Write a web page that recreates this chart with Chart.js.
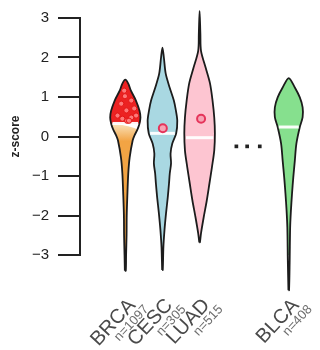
<!DOCTYPE html>
<html>
<head>
<meta charset="utf-8">
<script src="https://cdn.jsdelivr.net/npm/chart.js@4.4.1/dist/chart.umd.min.js"></script>
<style>
  html, body { margin: 0; padding: 0; background: #fff; }
  #wrap { width: 320px; height: 350px; }
</style>
</head>
<body>
<div id="wrap"><canvas id="chart"></canvas></div>
<script>
// ─── DATA ────────────────────────────────────────────────────────────────────
const categories  = ['BRCA', 'CESC', 'LUAD', 'BLCA'];
const sampleSizes = [1097, 305, 515, 408];
const positions   = [1, 2, 3, 5.4];          // x slot of each violin
const medians     = [0.33, 0.08, -0.03, 0.24];

// density profiles: z-score level -> relative half width
const brcaLevels  = [-3.4, -3.0, -2.5, -2.0, -1.5, -0.93, -0.53, -0.1, 0.03, 0.18, 0.33, 0.48, 0.65, 0.91, 1.16, 1.34, 1.44];
const brcaDensity = [0.03, 0.05, 0.08, 0.09, 0.13, 0.19, 0.28, 0.47, 0.59, 0.78, 0.91, 0.97, 0.91, 0.68, 0.36, 0.19, 0];

const cescLevels  = [-3.38, -2.8, -2.37, -1.94, -1.54, -1.19, -0.93, -0.68, -0.43, -0.18, 0.08, 0.40, 0.66, 0.91, 1.24, 1.59, 2.0, 2.25];
const cescDensity = [0.02, 0.06, 0.13, 0.23, 0.34, 0.42, 0.47, 0.55, 0.52, 0.63, 0.88, 0.95, 0.86, 0.73, 0.46, 0.21, 0.09, 0];

const luadLevels  = [-2.68, -2.45, -2.05, -1.62, -1.19, -0.78, -0.35, 0.08, 0.48, 0.91, 1.34, 1.74, 2.17, 2.6, 3.18];
const luadDensity = [0.02, 0.09, 0.26, 0.46, 0.63, 0.79, 0.94, 0.98, 0.94, 0.83, 0.67, 0.39, 0.09, 0.05, 0];

const blcaLevels  = [-3.89, -3.13, -2.3, -1.87, -1.45, -1.04, -0.61, -0.18, 0.24, 0.49, 0.74, 0.99, 1.24, 1.48];
const blcaDensity = [0.02, 0.06, 0.09, 0.14, 0.21, 0.29, 0.39, 0.49, 0.71, 0.89, 0.89, 0.71, 0.39, 0];

// highlighted BRCA samples (red dots in the upper part)
const brcaHitX = [0.97, 1.16, 0.89, 1.03, 1.24, 0.79, 0.92, 1.16, 1.29, 1.05, 0.99, 1.10];
const brcaHitY = [1.16, 0.91, 0.83, 0.66, 0.71, 0.53, 0.45, 0.48, 0.53, 0.40, 1.02, 0.40];

// single marked sample in CESC and LUAD
const markX = [2.01, 3.04];
const markY = [0.21, 0.45];

// "..." between LUAD and BLCA
const gapX = [3.99, 4.28, 4.62];
const gapY = [-0.25, -0.25, -0.25];

const yTicks = [-3, -2, -1, 0, 1, 2, 3];

// ─── HELPERS ─────────────────────────────────────────────────────────────────
const HALF = 0.42;   // x units for density 1
const INK  = '#1c1c1c';
const FONT = '"Liberation Sans", Arial, sans-serif';

function outline(levels, dens, center) {
    const pts = [];
    for (let i = 0; i < levels.length; i++) pts.push({ x: center - dens[i] * HALF, y: levels[i] });
    for (let i = levels.length - 2; i >= 0; i--) pts.push({ x: center + dens[i] * HALF, y: levels[i] });
    pts.push(pts[0]);
    return pts;
}

function densAt(levels, dens, v) {
    for (let i = 1; i < levels.length; i++) {
        if (v <= levels[i]) {
            const t = (v - levels[i - 1]) / (levels[i] - levels[i - 1]);
            return dens[i - 1] + t * (dens[i] - dens[i - 1]);
        }
    }
    return 0;
}

function cut(levels, dens, from, to) {
    const l = [], d = [];
    levels.forEach((v, i) => { if (v >= from && v <= to) { l.push(v); d.push(dens[i]); } });
    return [l, d];
}

function violinSet(levels, dens, center, color) {
    return {
        data: outline(levels, dens, center),
        showLine: true, fill: 'shape',
        backgroundColor: color, borderColor: INK, borderWidth: 1.8,
        pointRadius: 0, tension: 0.3, clip: false, order: 4
    };
}

function fillSet(levels, dens, center, color) {
    return {
        data: outline(levels, dens, center),
        showLine: true, fill: 'shape',
        backgroundColor: color, borderWidth: 0, borderColor: 'rgba(0,0,0,0)',
        pointRadius: 0, tension: 0.3, clip: false, order: 4
    };
}

function medianSet(levels, dens, center, m) {
    const w = densAt(levels, dens, m) * HALF * 0.9;
    return {
        data: [{ x: center - w, y: m }, { x: center + w, y: m }],
        showLine: true, borderColor: 'rgba(255,255,255,0.95)', borderWidth: 3,
        pointRadius: 0, tension: 0, clip: false, order: 2
    };
}

// orange part of BRCA fades to pale just under the median line
function brcaLowerFill(context) {
    const chart = context.chart;
    if (!chart.chartArea) return '#f2a444';
    const y = chart.scales.y;
    const g = chart.ctx.createLinearGradient(0, y.getPixelForValue(medians[0]), 0, y.getPixelForValue(medians[0] - 0.45));
    g.addColorStop(0, '#fae3bd');
    g.addColorStop(1, '#f2a444');
    return g;
}

const [brcaLoL, brcaLoD] = cut(brcaLevels, brcaDensity, -99, medians[0]);
const [brcaHiL, brcaHiD] = cut(brcaLevels, brcaDensity, medians[0], 99);

const datasets = [
    // markers on top
    {
        data: markX.map((x, i) => ({ x, y: markY[i] })),
        pointRadius: 4, pointBorderWidth: 2,
        pointBorderColor: '#e5345a', pointBackgroundColor: '#f6a3b4', order: 0
    },
    {
        data: brcaHitX.map((x, i) => ({ x, y: brcaHitY[i] })),
        pointRadius: 2.6, pointBorderWidth: 1,
        pointBorderColor: '#e41414', pointBackgroundColor: 'rgba(255,130,130,0.9)', order: 1
    },
    {
        data: gapX.map((x, i) => ({ x, y: gapY[i] })),
        pointStyle: 'rect', pointRadius: 2.6, pointBorderWidth: 0,
        pointBackgroundColor: '#222', order: 0
    },
    medianSet(brcaLevels, brcaDensity, positions[0], medians[0]),
    medianSet(cescLevels, cescDensity, positions[1], medians[1]),
    medianSet(luadLevels, luadDensity, positions[2], medians[2]),
    medianSet(blcaLevels, blcaDensity, positions[3], medians[3]),
    // BRCA: outline + two-tone fill
    {
        data: outline(brcaLevels, brcaDensity, positions[0]),
        showLine: true, fill: false, borderColor: INK, borderWidth: 1.8,
        pointRadius: 0, tension: 0.3, clip: false, order: 3
    },
    fillSet(brcaHiL, brcaHiD, positions[0], '#ec2222'),
    fillSet(brcaLoL, brcaLoD, positions[0], brcaLowerFill),
    violinSet(cescLevels, cescDensity, positions[1], '#a9d8e2'),
    violinSet(luadLevels, luadDensity, positions[2], '#fdc5d1'),
    violinSet(blcaLevels, blcaDensity, positions[3], '#86e08e')
];

// ─── X LABELS (rotated, two sizes) ──────────────────────────────────────────
const xLabels = {
    id: 'xLabels',
    afterDraw(chart) {
        const ctx = chart.ctx;
        const x = chart.scales.x;
        const base = chart.chartArea.bottom + 51;
        categories.forEach((name, i) => {
            const px = x.getPixelForValue(positions[i]);
            ctx.save();
            ctx.translate(px + 11, base);
            ctx.rotate(-47 * Math.PI / 180);
            ctx.textAlign = 'right';
            ctx.textBaseline = 'alphabetic';
            ctx.fillStyle = '#4a4a4a';
            ctx.font = '20px ' + FONT;
            ctx.fillText(name, 0, 0);
            ctx.fillStyle = '#6e6e6e';
            ctx.font = '13px ' + FONT;
            ctx.fillText('n=' + sampleSizes[i], 6, 12);
            ctx.restore();
        });
    }
};

new Chart(document.getElementById('chart'), {
    type: 'scatter',
    data: { datasets },
    options: {
        responsive: true,
        maintainAspectRatio: false,
        animation: false,
        layout: { padding: { top: 17, right: 2, bottom: 95, left: 0 } },
        elements: { line: { capBezierPoints: false } },
        plugins: { legend: { display: false }, tooltip: { enabled: false } },
        scales: {
            x: { type: 'linear', min: -0.22, max: 6.08, display: false },
            y: {
                min: -3, max: 3,
                afterFit(scale) { scale.width = 80; },
                afterBuildTicks(scale) { scale.ticks = yTicks.map(v => ({ value: v })); },
                ticks: {
                    padding: 9,
                    color: '#222',
                    font: { family: FONT, size: 15 },
                    callback: v => (v < 0 ? '\u2212' + Math.abs(v) : String(v))
                },
                grid: { drawOnChartArea: false, drawTicks: true, tickLength: 22, color: '#222', lineWidth: 2 },
                border: { display: true, color: '#222', width: 2 },
                title: {
                    display: true, text: 'z-score', color: '#222',
                    font: { family: FONT, size: 12, weight: 'bold' },
                    padding: { top: 8, bottom: 0 }
                }
            }
        }
    },
    plugins: [xLabels]
});
</script>
</body>
</html>
